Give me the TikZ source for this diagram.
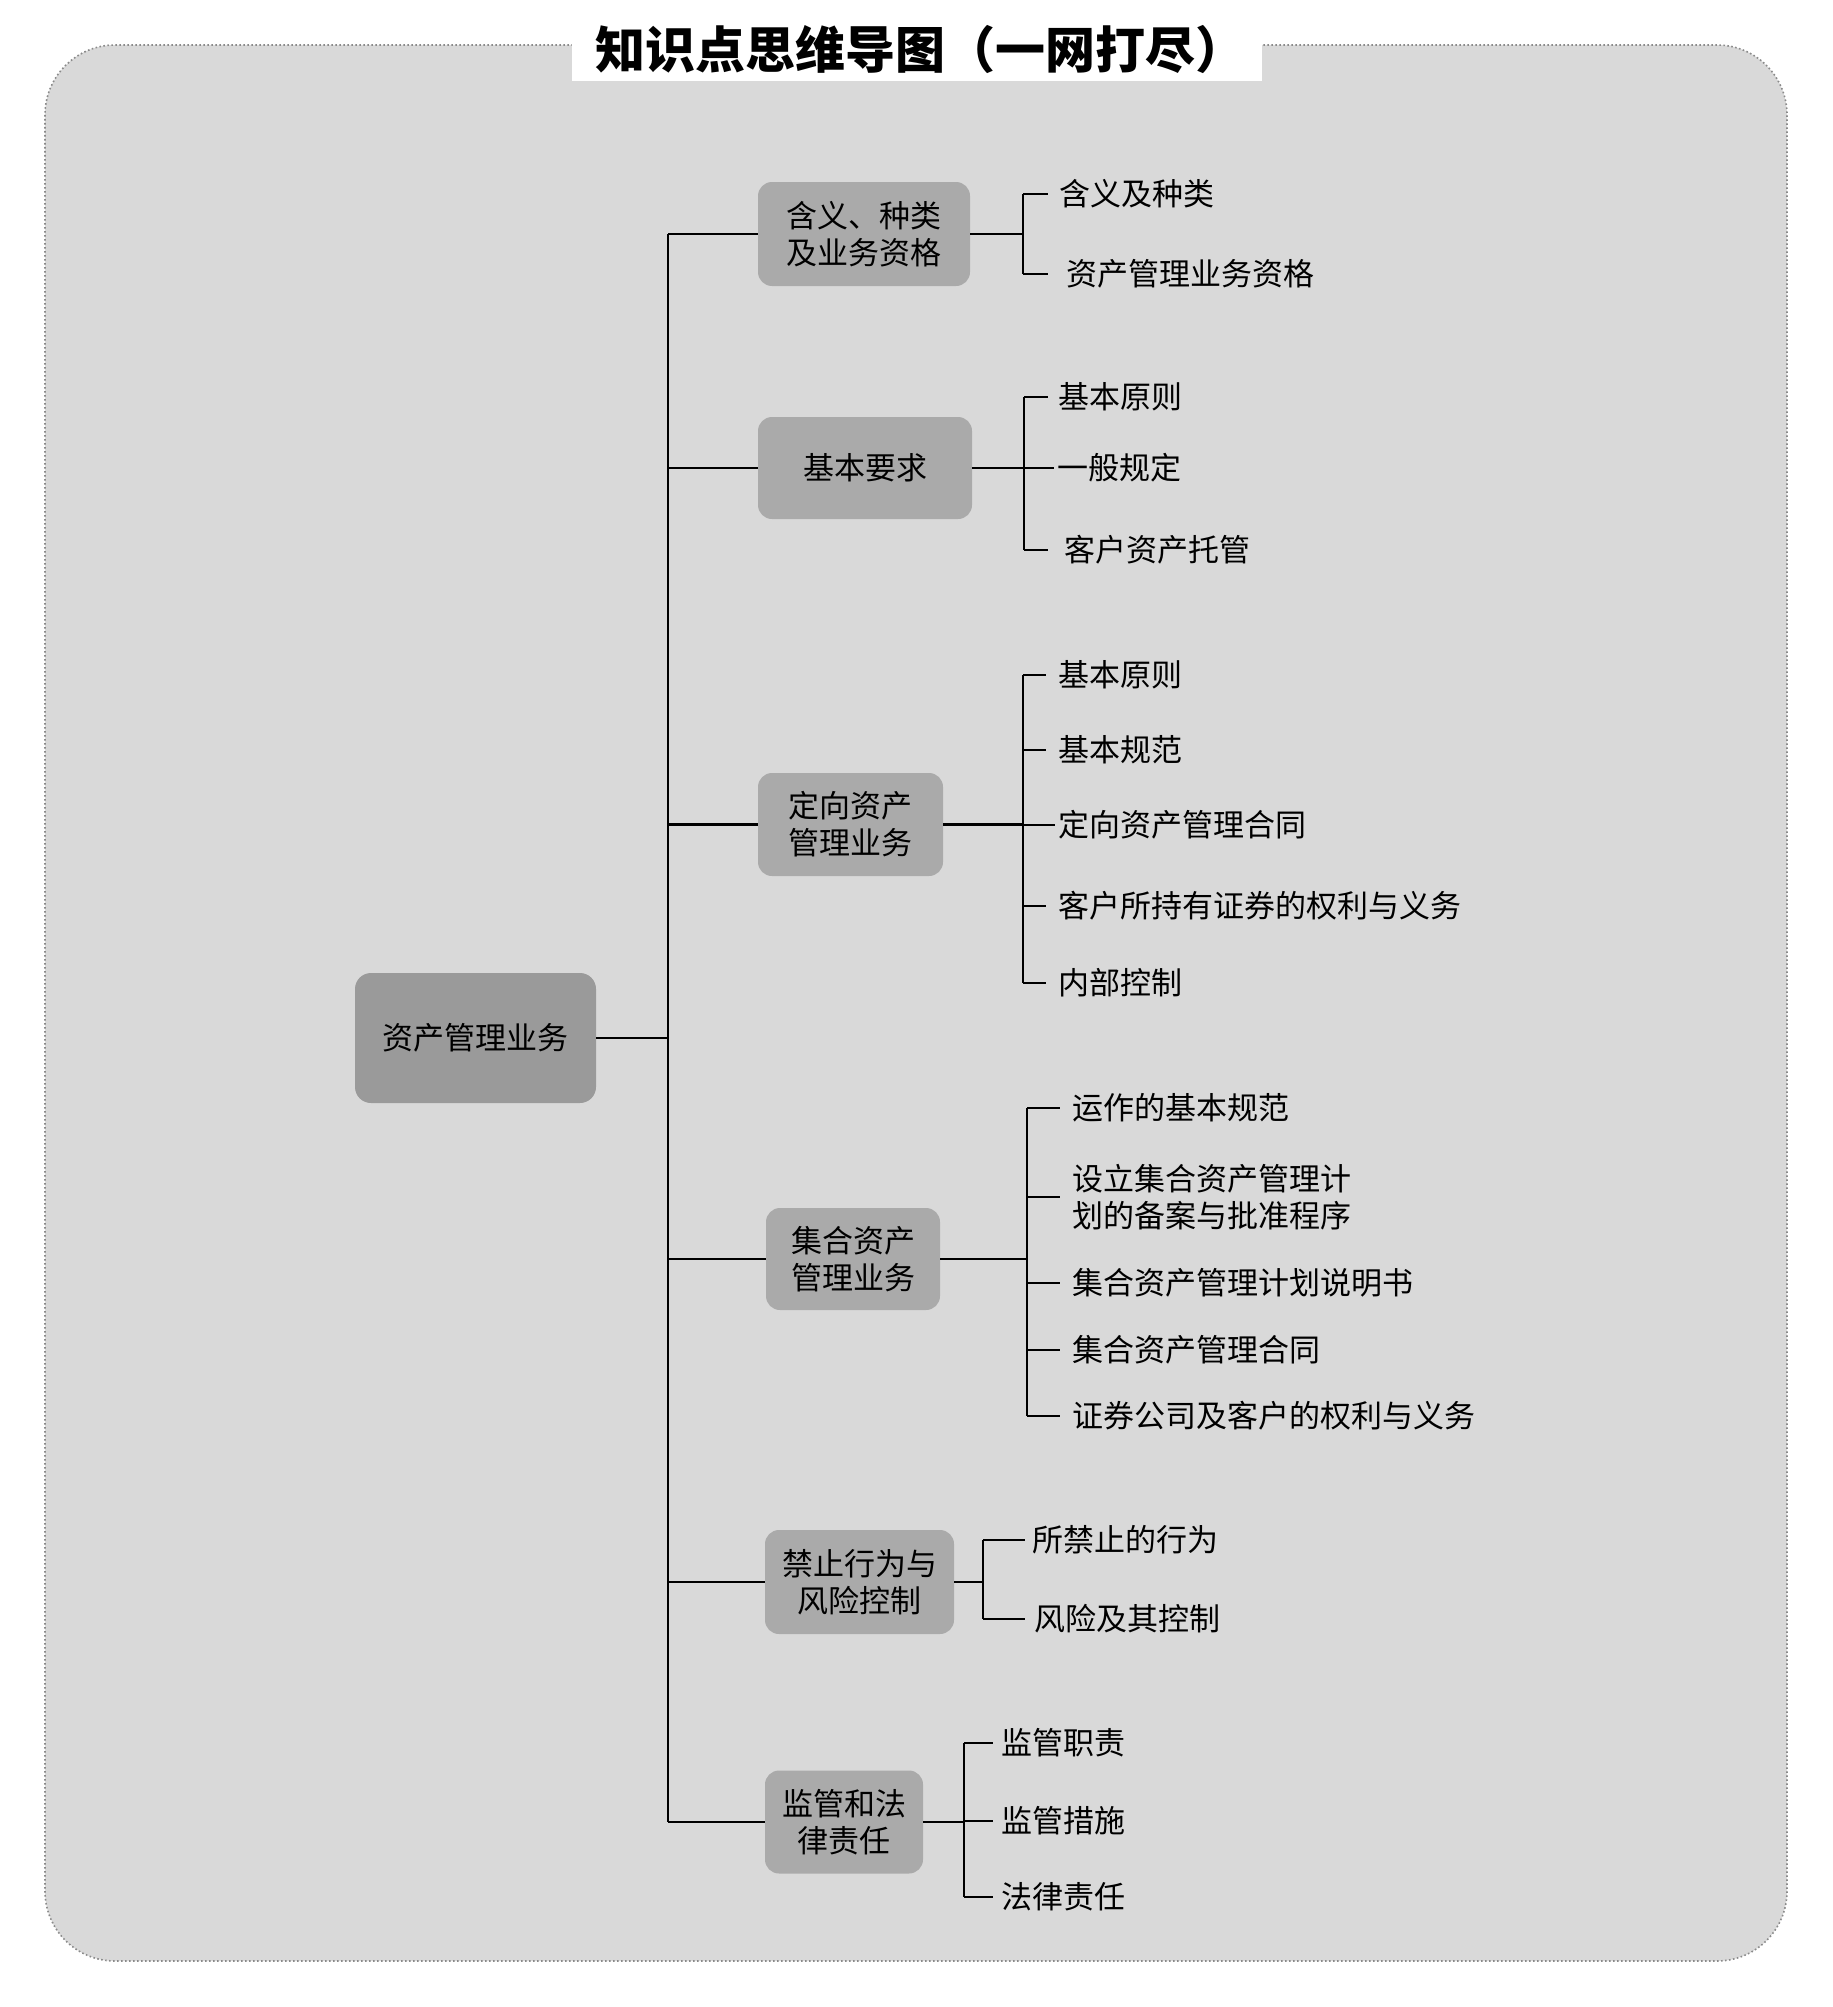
\documentclass[tikz,border=0pt]{standalone}
\usepackage{fontspec}
\newfontfamily\song{Noto Sans CJK SC}
\newfontfamily\hei{Noto Sans CJK SC}
\definecolor{bggray}{HTML}{D9D9D9}
\definecolor{nodegray}{HTML}{AAAAAA}
\definecolor{rootgray}{HTML}{9A9A9A}
\definecolor{bordergray}{HTML}{8A8A8A}
\newcommand{\bodyfont}{\song\fontsize{31}{37}\selectfont}
\newcommand{\titlefont}{\hei\bfseries\fontsize{50}{56}\selectfont}
\begin{document}
\begin{tikzpicture}[x=1pt,y=-1pt,
  every node/.style={inner sep=0pt, outer sep=0pt},
  lvl/.style={fill=nodegray, rounded corners=14pt, align=center, font=\bodyfont},
  item/.style={anchor=west, align=left, font=\bodyfont},
  conn/.style={line width=2.5pt, black}]
\useasboundingbox (0,0) rectangle (1832,2007);
\path[fill=bggray, draw=bordergray, line width=1.6pt, dash pattern=on 1.6pt off 2.4pt, rounded corners=70pt] (45,45) rectangle (1787,1961);
\node[fill=white, minimum width=690pt, minimum height=56pt] (title) at (917,53) {};
\node[font=\titlefont] (titletext) at (920,50) {知识点思维导图（一网打尽）};

% root and level-1 nodes
\node[lvl, fill=rootgray, rounded corners=16pt, minimum width=241pt, minimum height=130pt] (root) at (475.5,1038) {资产管理业务};
\node[lvl, minimum width=212pt, minimum height=104pt] (n1) at (864,234) {含义、种类\\及业务资格};
\node[lvl, minimum width=214pt, minimum height=102pt] (n2) at (865,468) {基本要求};
\node[lvl, minimum width=185pt, minimum height=103pt] (n3) at (850.5,824.5) {定向资产\\管理业务};
\node[lvl, minimum width=174pt, minimum height=102pt] (n4) at (853,1259) {集合资产\\管理业务};
\node[lvl, minimum width=189pt, minimum height=104pt] (n5) at (859.5,1582) {禁止行为与\\风险控制};
\node[lvl, minimum width=158pt, minimum height=103pt] (n6) at (844,1822) {监管和法\\律责任};

% trunk
\coordinate (tr) at (668,0);
\draw[conn] (root.east) -- (root.east -| tr);
\draw[conn] (tr |- n1.west) -- (tr |- n6.west);
\foreach \n in {n1,n2,n3,n4,n5,n6} {\draw[conn] (tr |- \n.west) -- (\n.west);}

% group 1
\node[item] (i11) at (1059,194) {含义及种类};
\node[item] (i12) at (1066,274) {资产管理业务资格};
\coordinate (b1) at (1023,0);
\draw[conn] (n1.east) -- (n1.east -| b1);
\draw[conn] (b1 |- i11.west) -- (b1 |- i12.west);
\draw[conn, shorten >=11pt] (b1 |- i11.west) -- (i11.west);
\draw[conn, shorten >=18pt] (b1 |- i12.west) -- (i12.west);

% group 2
\node[item] (i21) at (1058,397) {基本原则};
\node[item] (i22) at (1057,468) {一般规定};
\node[item] (i23) at (1064,550) {客户资产托管};
\coordinate (b2) at (1024,0);
\draw[conn] (n2.east) -- (n2.east -| b2);
\draw[conn] (b2 |- i21.west) -- (b2 |- i23.west);
\draw[conn, shorten >=10pt] (b2 |- i21.west) -- (i21.west);
\draw[conn, shorten >=3pt] (b2 |- i22.west) -- (i22.west);
\draw[conn, shorten >=16pt] (b2 |- i23.west) -- (i23.west);

% group 3
\node[item] (i31) at (1058,675) {基本原则};
\node[item] (i32) at (1058,750) {基本规范};
\node[item] (i33) at (1058,825) {定向资产管理合同};
\node[item] (i34) at (1058,906) {客户所持有证券的权利与义务};
\node[item] (i35) at (1058,983) {内部控制};
\coordinate (b3) at (1023,0);
\draw[conn] (n3.east) -- (n3.east -| b3);
\draw[conn] (b3 |- i31.west) -- (b3 |- i35.west);
\foreach \i in {i31,i32,i34,i35} {\draw[conn, shorten >=12pt] (b3 |- \i.west) -- (\i.west);}
\draw[conn, shorten >=3pt] (b3 |- i33.west) -- (i33.west);

% group 4
\node[item] (i41) at (1072,1108) {运作的基本规范};
\node[item] (i42) at (1072,1197) {设立集合资产管理计\\划的备案与批准程序};
\node[item] (i43) at (1072,1283) {集合资产管理计划说明书};
\node[item] (i44) at (1072,1350) {集合资产管理合同};
\node[item] (i45) at (1072,1416) {证券公司及客户的权利与义务};
\coordinate (b4) at (1027,0);
\draw[conn] (n4.east) -- (n4.east -| b4);
\draw[conn] (b4 |- i41.west) -- (b4 |- i45.west);
\foreach \i in {i41,i42,i43,i44,i45} {\draw[conn, shorten >=12pt] (b4 |- \i.west) -- (\i.west);}

% group 5
\node[item] (i51) at (1032,1540) {所禁止的行为};
\node[item] (i52) at (1034,1619) {风险及其控制};
\coordinate (b5) at (983,0);
\draw[conn] (n5.east) -- (n5.east -| b5);
\draw[conn] (b5 |- i51.west) -- (b5 |- i52.west);
\draw[conn, shorten >=7pt] (b5 |- i51.west) -- (i51.west);
\draw[conn, shorten >=9pt] (b5 |- i52.west) -- (i52.west);

% group 6
\node[item] (i61) at (1001,1743) {监管职责};
\node[item] (i62) at (1001,1821) {监管措施};
\node[item] (i63) at (1001,1897) {法律责任};
\coordinate (b6) at (964,0);
\draw[conn] (n6.east) -- (n6.east -| b6);
\draw[conn] (b6 |- i61.west) -- (b6 |- i63.west);
\foreach \i in {i61,i62,i63} {\draw[conn, shorten >=8pt] (b6 |- \i.west) -- (\i.west);}
\end{tikzpicture}
\end{document}
